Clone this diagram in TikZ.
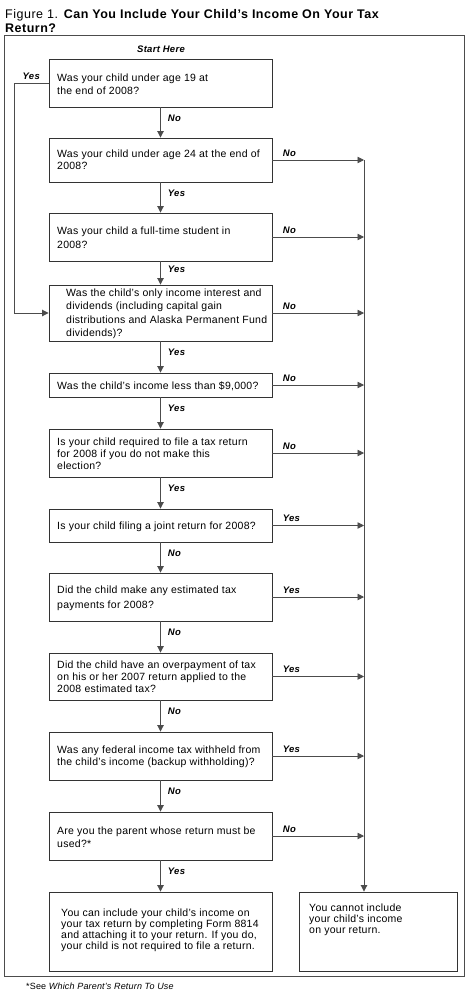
\documentclass[tikz,border=0pt]{standalone}
\usepackage{fontspec}
\setmainfont{Liberation Sans}
\usetikzlibrary{arrows.meta}
\newcommand{\qfont}[1]{\fontsize{10.5}{#1}\selectfont\addfontfeatures{LetterSpace=2.5}}
\begin{document}
\begin{tikzpicture}[x=1pt,y=-1pt,
  box/.style={draw=black!80, line width=0.9pt, inner sep=0pt, minimum width=223pt},
  qtext/.style={inner sep=0pt, anchor=west, align=left, font=\qfont{#1}},
  qtext/.default=12.5,
  conn/.style={draw=black!70, line width=0.9pt},
  arr/.style={conn, -{Triangle[length=6.5pt,width=6.5pt]}},
  lab/.style={font=\fontsize{9.5}{10}\selectfont\bfseries\itshape\addfontfeatures{LetterSpace=3}, inner sep=0pt}
]
\useasboundingbox (0,0) rectangle (468,993);
% title
\node[anchor=base west, inner sep=0pt, font=\fontsize{12.5}{14}\selectfont\addfontfeatures{LetterSpace=4}] (title1) at (5,18.5) {Figure 1. \textbf{Can You Include Your Child’s Income On Your Tax}};
\node[anchor=base west, inner sep=0pt, font=\fontsize{12.5}{14}\selectfont\addfontfeatures{LetterSpace=4}] (title2) at (5,32) {\textbf{Return?}};
% frame
\draw[black!70, line width=0.9pt] (4,35.5) rectangle (464,976.5);
\node[lab] (start) at (161,49) {Start Here};
% boxes
\node[box, minimum height=48pt] (b1) at (160.5,83) {};
\node[box, minimum height=44pt] (b2) at (160.5,160) {};
\node[box, minimum height=48pt] (b3) at (160.5,237) {};
\node[box, minimum height=56pt] (b4) at (160.5,313) {};
\node[box, minimum height=24pt] (b5) at (160.5,385) {};
\node[box, minimum height=48pt] (b6) at (160.5,453) {};
\node[box, minimum height=33pt] (b7) at (160.5,525.5) {};
\node[box, minimum height=48pt] (b8) at (160.5,597) {};
\node[box, minimum height=47pt] (b9) at (160.5,676.5) {};
\node[box, minimum height=48pt] (b10) at (160.5,756) {};
\node[box, minimum height=48pt] (b11) at (160.5,836) {};
\node[box, minimum height=79pt] (b12) at (160.5,931.5) {};
\node[box, minimum height=79pt, minimum width=158pt] (b13) at (378,931.5) {};
% texts
\node[qtext=13] (t1) at (57,84.5) {Was your child under age 19 at\\the end of 2008?};
\node[qtext=12] (t2) at (57,160) {Was your child under age 24 at the end of\\2008?};
\node[qtext=14] (t3) at (57,238) {Was your child a full-time student in\\2008?};
\node[qtext=13.5] (t4) at (66,314) {Was the child’s only income interest and\\dividends (including capital gain\\distributions and Alaska Permanent Fund\\dividends)?};
\node[qtext] (t5) at (57,386) {Was the child’s income less than \$9,000?};
\node[qtext=12] (t6) at (57,454) {Is your child required to file a tax return\\for 2008 if you do not make this\\election?};
\node[qtext] (t7) at (57,527) {Is your child filing a joint return for 2008?};
\node[qtext=15] (t8) at (57,598.5) {Did the child make any estimated tax\\payments for 2008?};
\node[qtext=12.3] (t9) at (57,676.7) {Did the child have an overpayment of tax\\on his or her 2007 return applied to the\\2008 estimated tax?};
\node[qtext=12.3] (t10) at (57,757) {Was any federal income tax withheld from\\the child’s income (backup withholding)?};
\node[qtext=13.3] (t11) at (57,837.3) {Are you the parent whose return must be\\used?*};
\node[qtext=11] (t12) at (61,930) {You can include your child’s income on\\your tax return by completing Form 8814\\and attaching it to your return. If you do,\\your child is not required to file a return.};
\node[qtext=11.3] (t13) at (309,919.7) {You cannot include\\your child’s income\\on your return.};
% right collector
\coordinate (r2) at (364,160);
\draw[arr] (r2) -- (r2 |- b13.north);
% vertical arrows
\draw[arr] (b1) -- node[lab, pos=0.35, anchor=west, xshift=7pt] {No} (b2);
\draw[arr] (b2) -- node[lab, pos=0.35, anchor=west, xshift=7pt] {Yes} (b3);
\draw[arr] (b3) -- node[lab, pos=0.35, anchor=west, xshift=7pt] {Yes} (b4);
\draw[arr] (b4) -- node[lab, pos=0.35, anchor=west, xshift=7pt] {Yes} (b5);
\draw[arr] (b5) -- node[lab, pos=0.35, anchor=west, xshift=7pt] {Yes} (b6);
\draw[arr] (b6) -- node[lab, pos=0.35, anchor=west, xshift=7pt] {Yes} (b7);
\draw[arr] (b7) -- node[lab, pos=0.35, anchor=west, xshift=7pt] {No} (b8);
\draw[arr] (b8) -- node[lab, pos=0.35, anchor=west, xshift=7pt] {No} (b9);
\draw[arr] (b9) -- node[lab, pos=0.35, anchor=west, xshift=7pt] {No} (b10);
\draw[arr] (b10) -- node[lab, pos=0.35, anchor=west, xshift=7pt] {No} (b11);
\draw[arr] (b11) -- node[lab, pos=0.35, anchor=west, xshift=7pt] {Yes} (b12);
% horizontal arrows
\draw[arr] (b2.east) -- node[lab, pos=0, anchor=south west, xshift=10pt, yshift=3pt] {No} (b2.east -| r2);
\draw[arr] (b3.east) -- node[lab, pos=0, anchor=south west, xshift=10pt, yshift=3pt] {No} (b3.east -| r2);
\draw[arr] (b4.east) -- node[lab, pos=0, anchor=south west, xshift=10pt, yshift=3pt] {No} (b4.east -| r2);
\draw[arr] (b5.east) -- node[lab, pos=0, anchor=south west, xshift=10pt, yshift=3pt] {No} (b5.east -| r2);
\draw[arr] (b6.east) -- node[lab, pos=0, anchor=south west, xshift=10pt, yshift=3pt] {No} (b6.east -| r2);
\draw[arr] (b7.east) -- node[lab, pos=0, anchor=south west, xshift=10pt, yshift=3pt] {Yes} (b7.east -| r2);
\draw[arr] (b8.east) -- node[lab, pos=0, anchor=south west, xshift=10pt, yshift=3pt] {Yes} (b8.east -| r2);
\draw[arr] (b9.east) -- node[lab, pos=0, anchor=south west, xshift=10pt, yshift=3pt] {Yes} (b9.east -| r2);
\draw[arr] (b10.east) -- node[lab, pos=0, anchor=south west, xshift=10pt, yshift=3pt] {Yes} (b10.east -| r2);
\draw[arr] (b11.east) -- node[lab, pos=0, anchor=south west, xshift=10pt, yshift=3pt] {No} (b11.east -| r2);
% left loop
\coordinate (l1) at (14,83);
\draw[arr] (b1.west) -- node[lab, pos=0.5, anchor=south, yshift=3pt] {Yes} (l1) |- (b4.west);
% footnote
\node[anchor=base west, inner sep=0pt, font=\fontsize{9}{10}\selectfont\addfontfeatures{LetterSpace=2}] (foot) at (26,989) {*See \textit{Which Parent’s Return To Use}};
\end{tikzpicture}
\end{document}
